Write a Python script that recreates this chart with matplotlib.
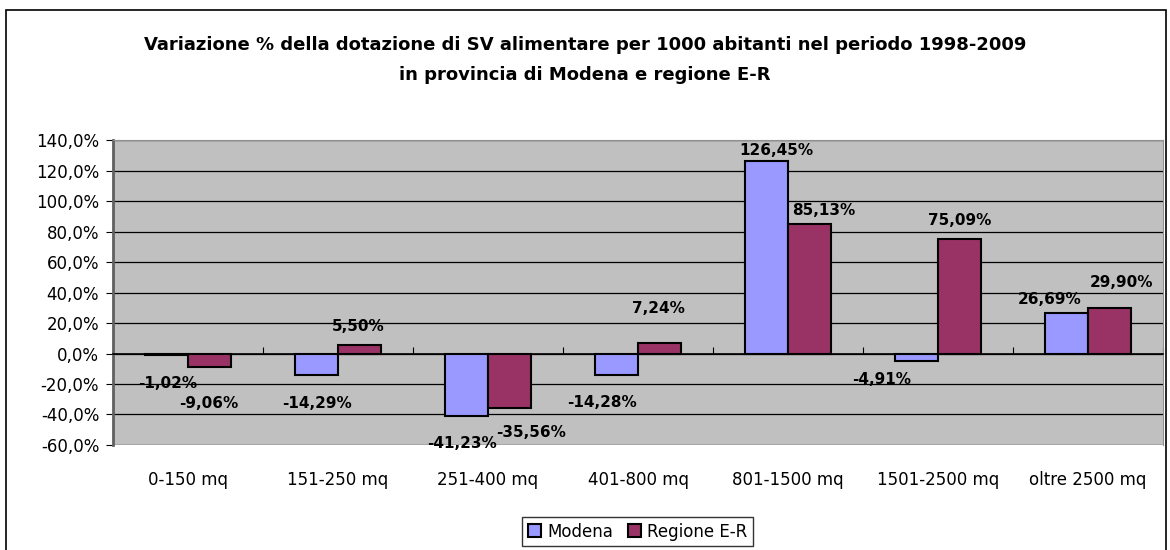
import numpy as np
from matplotlib import pyplot as plt
from matplotlib.ticker import FuncFormatter
from matplotlib import transforms
from matplotlib.patches import Rectangle

categories = ['0-150 mq', '151-250 mq', '251-400 mq', '401-800 mq',
              '801-1500 mq', '1501-2500 mq', 'oltre 2500 mq']
modena = [-1.02, -14.29, -41.23, -14.28, 126.45, -4.91, 26.69]
regione = [-9.06, 5.50, -35.56, 7.24, 85.13, 75.09, 29.90]
series_names = ['Modena', 'Regione E-R']
title = ('Variazione % della dotazione di SV alimentare per 1000 abitanti nel periodo 1998-2009\n'
         'in provincia di Modena e regione E-R')

# label placement (pixels from bar end), as the labels sit in the original sheet
lab_off_mod = [(1, -28), (1, -28), (-4, -27), (-14, -27), (10, 10), (-35, -18), (-17, 13)]
lab_off_reg = [(-1, -36), (-1, 19), (22, -25), (-1, 34), (14, 13), (0, 19), (12, 25)]

plt.rcParams['font.family'] = ['DejaVu Sans']

fig = plt.figure(figsize=(11.7, 5.5), dpi=100)
ax = fig.add_axes([0.0966, 0.191, 0.8974, 0.554])
ax.set_facecolor('#C0C0C0')

x = np.arange(len(categories))
w = 0.287
b1 = ax.bar(x - w/2, modena, w, color='#9999FF', edgecolor='black', linewidth=1.5, label=series_names[0], zorder=3)
b2 = ax.bar(x + w/2, regione, w, color='#993366', edgecolor='black', linewidth=1.5, label=series_names[1], zorder=3)

def fmt(v):
    return ('%.2f%%' % v).replace('.', ',')

for bars, vals, offs in ((b1, modena, lab_off_mod), (b2, regione, lab_off_reg)):
    for r, v, (dx, dy) in zip(bars, vals, offs):
        ax.annotate(fmt(v), (r.get_x() + r.get_width()/2, v), xytext=(dx, dy),
                    textcoords='offset pixels', ha='center', va='center',
                    fontsize=11, fontweight='bold', zorder=5)

ax.set_ylim(-60, 140)
ax.set_yticks(np.arange(-60, 141, 20))
ax.yaxis.set_major_formatter(FuncFormatter(lambda v, p: ('%.1f%%' % v).replace('.', ',')))
ax.tick_params(axis='y', labelsize=12, length=5, color='black', pad=5)
ax.yaxis.grid(True, color='black', linewidth=0.9, zorder=0)
ax.set_axisbelow(True)

ax.set_xlim(-0.5, len(categories) - 0.5)
ax.spines['bottom'].set_position(('data', 0))
ax.spines['bottom'].set_color('black')
ax.spines['bottom'].set_linewidth(1.2)
ax.spines['bottom'].set_zorder(4)
ax.set_xticks(np.arange(len(categories) + 1) - 0.5)
ax.set_xticklabels([])
ax.tick_params(axis='x', direction='in', length=5, color='black')
ax.spines['left'].set_color('#606060')
ax.spines['left'].set_linewidth(2)
ax.spines['top'].set_color('#909090')
ax.spines['right'].set_color('#909090')

trans = transforms.blended_transform_factory(ax.transData, ax.transAxes)
for i, c in enumerate(categories):
    ax.text(i, -0.115, c, transform=trans, ha='center', va='center', fontsize=12)

fig.text(0.5, 0.891, title, ha='center', va='center', fontsize=13, fontweight='bold',
         linespacing=1.85)

leg = fig.legend(loc='center', bbox_to_anchor=(0.545, 0.0336), ncol=2, fontsize=12,
                 frameon=True, fancybox=False, edgecolor='black', handlelength=0.8,
                 handleheight=0.8, handletextpad=0.35, columnspacing=0.9,
                 borderpad=0.35, borderaxespad=0)
leg.get_frame().set_linewidth(1)

fig.patches.append(Rectangle((6/1170, -0.01), 1160/1170, 0.992, transform=fig.transFigure,
                             fill=False, edgecolor='black', linewidth=1.2))

fig.savefig('out.png', dpi=100)
